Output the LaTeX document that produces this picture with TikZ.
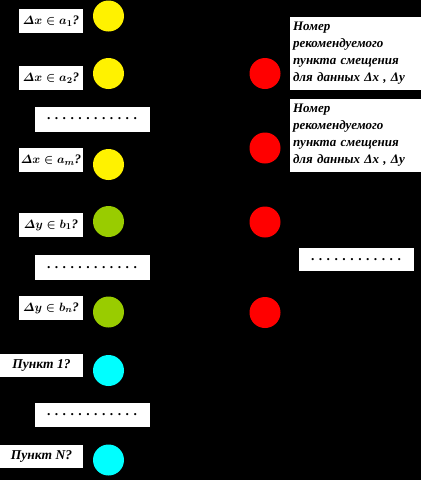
\documentclass[tikz,border=0pt]{standalone}
\usepackage{amsmath}
\usepackage{fontspec}
\setmainfont{Liberation Serif}
\definecolor{olivegreen}{RGB}{153,204,0}
\definecolor{aqua}{RGB}{0,255,255}
\begin{document}
\begin{tikzpicture}[x=1pt,y=-1pt, font=\bfseries\itshape\fontsize{13.5}{16}\selectfont]
	\tikzset{
		query/.style={fill=white, minimum width=64pt, minimum height=24pt, inner sep=0pt, font=\boldmath\bfseries\itshape\fontsize{13}{16}\selectfont},
		point/.style={fill=white, minimum width=83pt, minimum height=23pt, inner sep=0pt},
		dotbox/.style={fill=white, minimum width=115pt, minimum height=25pt, inner sep=0pt},
		ball/.style={circle, minimum size=31pt, inner sep=0pt},
		answer/.style={fill=white, minimum width=131pt, minimum height=73pt, text width=125pt,
			align=left, inner sep=0pt, font=\bfseries\itshape\fontsize{13}{17}\selectfont}
	}
	\def\dotrow{. . . . . . . . . . . .}
	\fill[black] (0,0) rectangle (421,480);
	% left column: questions
	\node[query] (qx1) at (51,21) {$\varDelta x\in a_1$?};
	\node[query] (qx2) at (51,78) {$\varDelta x\in a_2$?};
	\node[dotbox] (dx) at (92.5,119) {\dotrow};
	\node[query] (qxm) at (51,160) {$\varDelta x\in a_m$?};
	\node[query] (qy1) at (51,225) {$\varDelta y\in b_1$?};
	\node[dotbox] (dy) at (92.5,267.5) {\dotrow};
	\node[query] (qyn) at (51,308) {$\varDelta y\in b_n$?};
	\node[point] (p1) at (41.5,365.5) {Пункт 1?};
	\node[dotbox, minimum height=24pt] (dp) at (92.5,415) {\dotrow};
	\node[point] (pN) at (41.5,456.5) {Пункт N?};
	% balls
	\node[ball, fill=yellow] (bx1) at (108.5,16) {};
	\node[ball, fill=yellow] (bx2) at (108.5,73.5) {};
	\node[ball, fill=yellow] (bxm) at (108.5,164.5) {};
	\node[ball, fill=olivegreen] (by1) at (108.5,221.5) {};
	\node[ball, fill=olivegreen] (byn) at (108.5,312) {};
	\node[ball, fill=aqua] (bp1) at (108.5,370.5) {};
	\node[ball, fill=aqua] (bpN) at (108.5,460) {};
	% right column
	\node[ball, fill=red] (r1) at (265,73.5) {};
	\node[ball, fill=red] (r2) at (265,148) {};
	\node[ball, fill=red] (r3) at (265,222) {};
	\node[ball, fill=red] (r4) at (265,312.5) {};
	\node[answer] (a1) at (355.5,53.5) {Номер\\ рекомендуемого\\ пункта смещения\\ для данных Δ\textit{x} , Δ\textit{y}};
	\node[answer] (a2) at (355.5,135) {Номер\\ рекомендуемого\\ пункта смещения\\ для данных Δ\textit{x} , Δ\textit{y}};
	\node[dotbox, minimum height=23pt] (da) at (356.5,259.5) {\dotrow};
\end{tikzpicture}
\end{document}
